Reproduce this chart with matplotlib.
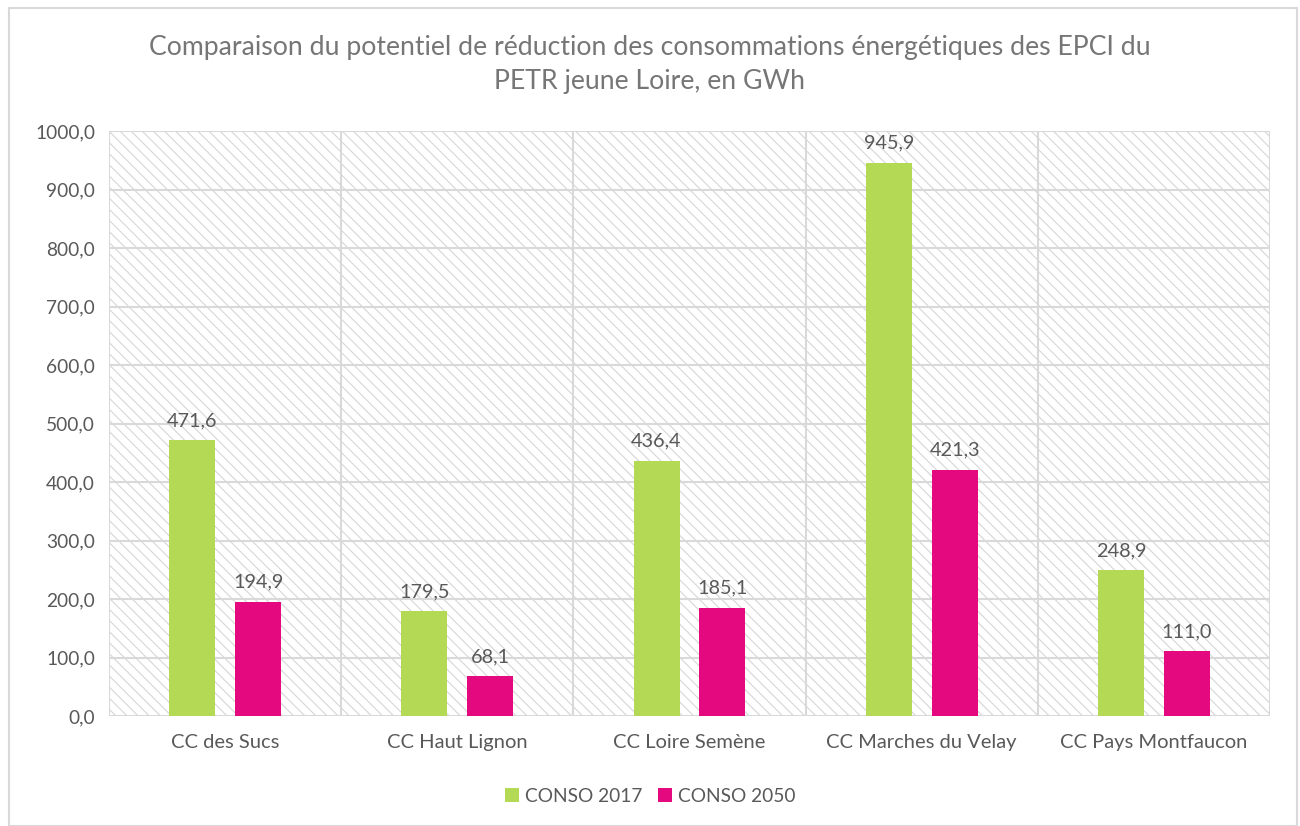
import matplotlib
matplotlib.use("Agg")
import matplotlib.pyplot as plt
import numpy as np
from matplotlib.patches import Rectangle

categories = ["CC des Sucs", "CC Haut Lignon", "CC Loire Semène", "CC Marches du Velay", "CC Pays Montfaucon"]
conso_2017 = [471.6, 179.5, 436.4, 945.9, 248.9]
conso_2050 = [194.9, 68.1, 185.1, 421.3, 111.0]
series_names = ["CONSO 2017", "CONSO 2050"]
title = "Comparaison du potentiel de réduction des consommations énergétiques des EPCI du\nPETR jeune Loire, en GWh"

GREEN = "#B3D955"
MAGENTA = "#E4097F"
TXT = "#595959"
TITLE_C = "#767676"
GRID = "#D9D9D9"

plt.rcParams['font.family'] = ['Lato', 'DejaVu Sans']
plt.rcParams['hatch.color'] = '#D0D0D0'
plt.rcParams['hatch.linewidth'] = 0.8

fig = plt.figure(figsize=(13, 8.26), dpi=100)
fig.patch.set_facecolor("white")
# outer chart border
fig.add_artist(Rectangle((9/1300, 0), (1297-9)/1300, (826-8)/826, transform=fig.transFigure,
                         fill=False, edgecolor=GRID, linewidth=1.5))

ax = fig.add_axes([109/1300, 1-716/826, (1270-109)/1300, (716-131)/826])
ax.set_xlim(0, 5)
ax.set_ylim(0, 1000)

# hatched background
ax.add_patch(Rectangle((0, 0), 1, 1, transform=ax.transAxes, facecolor="white",
                       hatch='\\\\\\', edgecolor='#D6D6D6', linewidth=0, zorder=0))

x = np.arange(len(categories)) + 0.5
w = 0.198
off = 0.142
b1 = ax.bar(x - off, conso_2017, w, color=GREEN, label=series_names[0], zorder=3)
b2 = ax.bar(x + off, conso_2050, w, color=MAGENTA, label=series_names[1], zorder=3)

for bars, vals in ((b1, conso_2017), (b2, conso_2050)):
    for r, v in zip(bars, vals):
        ax.annotate(f"{v:.1f}".replace(".", ","), (r.get_x() + r.get_width()/2, v),
                    xytext=(0, 8), textcoords="offset points", ha="center", va="bottom",
                    fontsize=14.3, color=TXT, zorder=4)

yt = np.arange(0, 1001, 100)
ax.set_yticks(yt)
ax.set_yticklabels([f"{t:.1f}".replace(".", ",") for t in yt], fontsize=13.8, color=TXT)
ax.set_xticks(x)
ax.set_xticklabels(categories, fontsize=14.5, color=TXT)
ax.tick_params(axis='y', length=0, pad=10)
ax.tick_params(axis='x', length=0, pad=13)

for t in yt:
    ax.axhline(t, color=GRID, linewidth=1.5, zorder=1)
for k in range(6):
    ax.axvline(k, color=GRID, linewidth=1.5, zorder=1)
for s in ax.spines.values():
    s.set_visible(False)

fig.text(0.5, 1-65/826, title, ha="center", va="center", fontsize=19.2, color=TITLE_C, linespacing=1.45)

leg = fig.legend(handles=[b1, b2], labels=series_names, loc="center", bbox_to_anchor=(0.5, 1-796/826),
                 ncol=2, frameon=False, fontsize=13.8, handlelength=0.75, handleheight=0.8,
                 columnspacing=0.8, handletextpad=0.3)
for t in leg.get_texts():
    t.set_color(TXT)

fig.savefig("out.png", dpi=100, facecolor="white")
